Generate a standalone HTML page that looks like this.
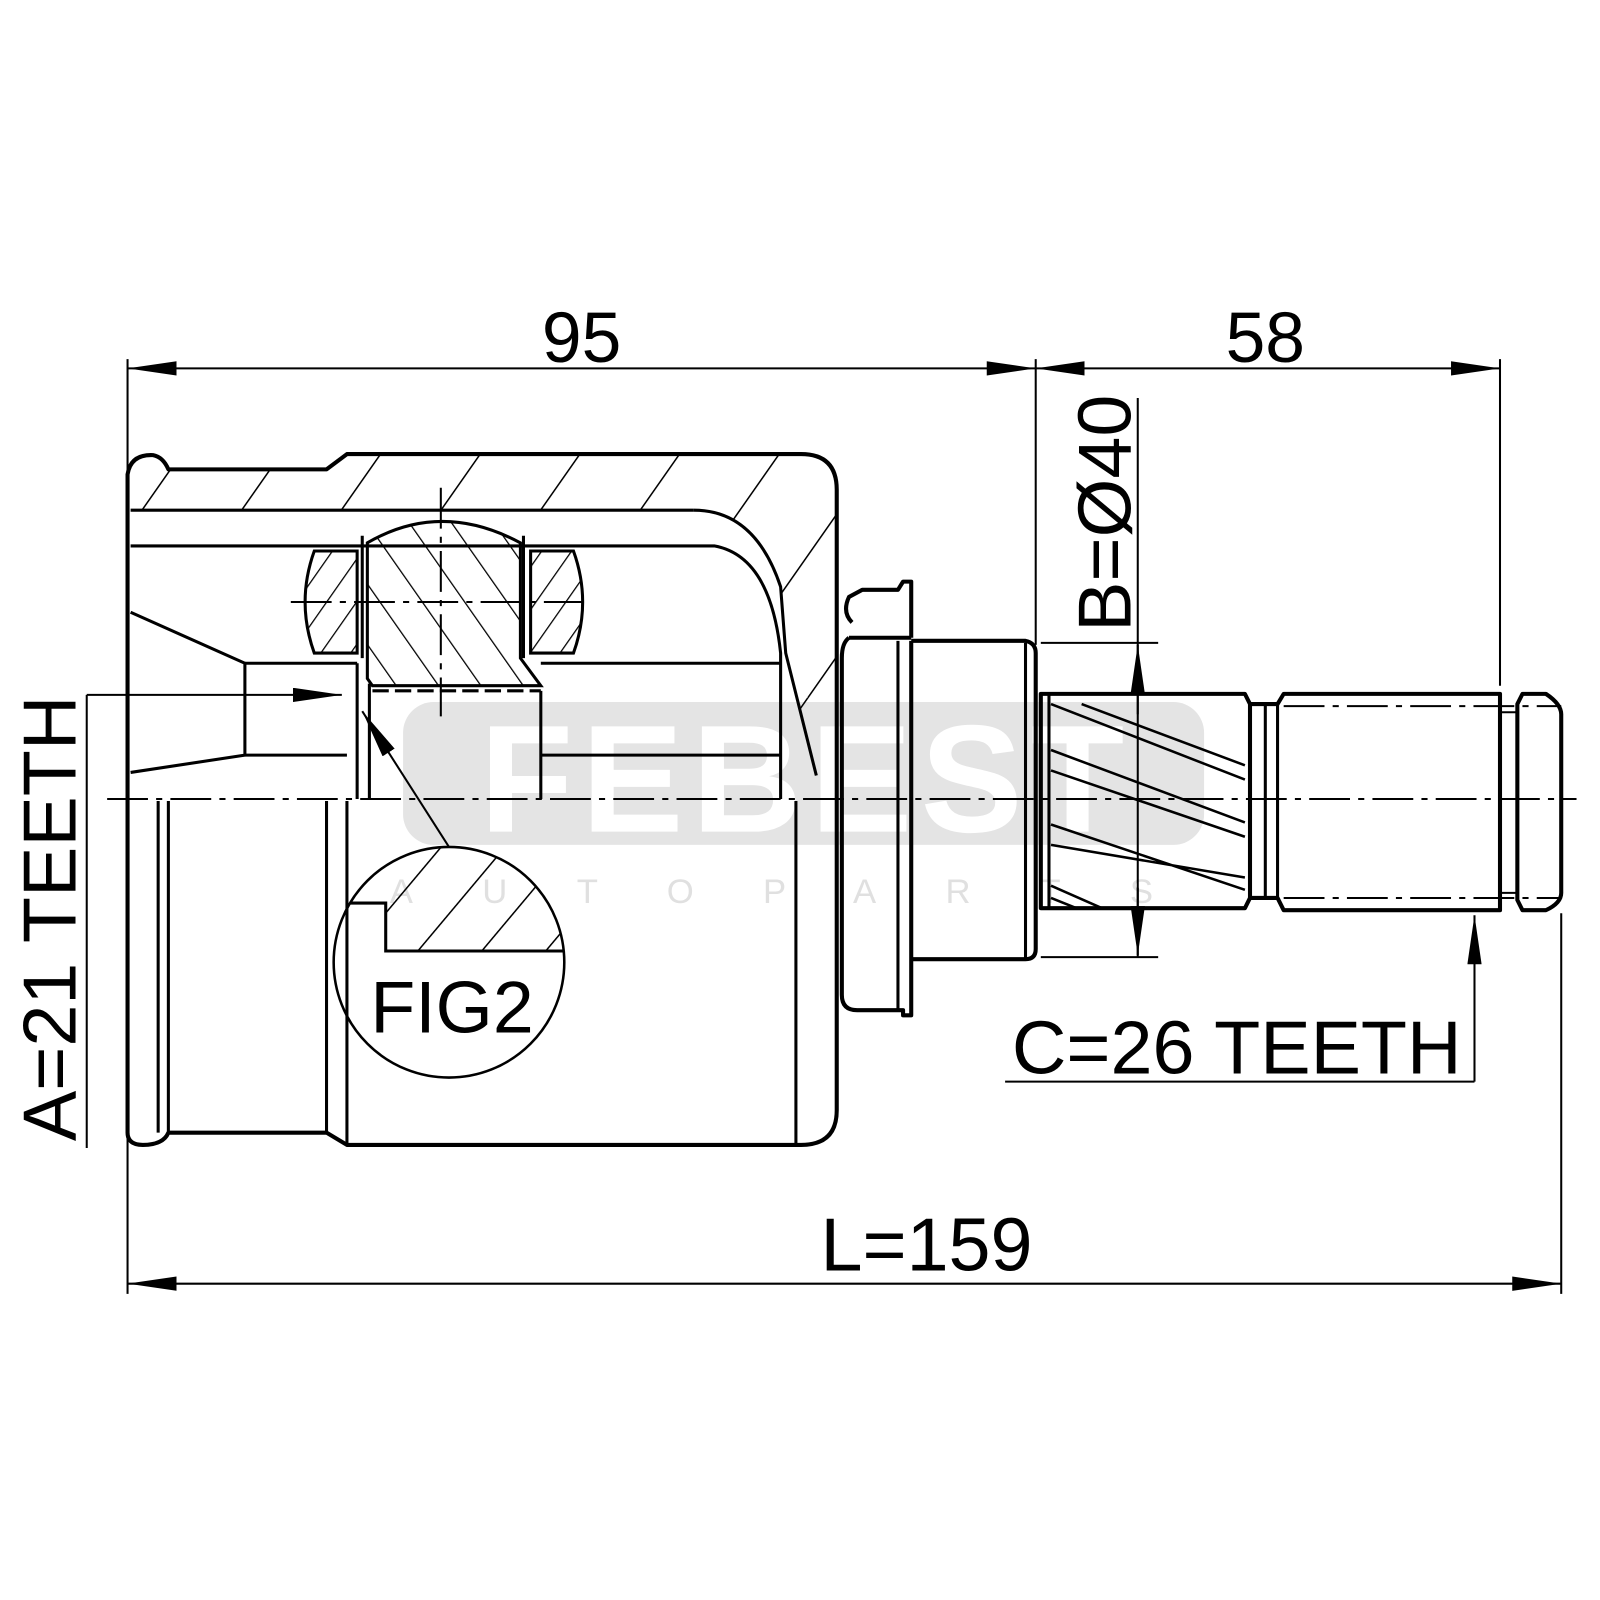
<!DOCTYPE html>
<html><head><meta charset="utf-8"><style>
html,body{margin:0;padding:0;background:#fff}
svg{display:block}
text{font-family:"Liberation Sans",Arial,sans-serif}
</style></head><body>
<svg width="1600" height="1600" viewBox="0 0 1568 1568" xmlns="http://www.w3.org/2000/svg">
<defs>
<marker id="ar" viewBox="0 0 48 14" refX="48" refY="7" markerWidth="48" markerHeight="14" markerUnits="userSpaceOnUse" orient="auto-start-reverse"><path d="M0,0 L48,7 L0,14 Z" fill="#000"/></marker>
<pattern id="h1" width="80" height="80" patternUnits="userSpaceOnUse" patternTransform="rotate(35)"><line x1="0" y1="0" x2="0" y2="80" stroke="#000" stroke-width="3"/></pattern>
<pattern id="h2" width="34" height="34" patternUnits="userSpaceOnUse" patternTransform="rotate(-35)"><line x1="0" y1="0" x2="0" y2="34" stroke="#000" stroke-width="2.5"/></pattern>
<pattern id="h3" width="24" height="24" patternUnits="userSpaceOnUse" patternTransform="rotate(35)"><line x1="0" y1="0" x2="0" y2="24" stroke="#000" stroke-width="2.5"/></pattern>
<pattern id="h4" width="48" height="48" patternUnits="userSpaceOnUse" patternTransform="rotate(40)"><line x1="0" y1="0" x2="0" y2="48" stroke="#000" stroke-width="3"/></pattern>
<clipPath id="fig"><circle cx="440" cy="943" r="113"/></clipPath>
</defs>
<g fill="#e4e4e4">
<rect x="395" y="688" width="785" height="140" rx="30"/>
</g>
<text x="790" y="815" text-anchor="middle" font-size="150" font-weight="bold" fill="#fff" letter-spacing="8">FEBEST</text>
<text x="790" y="885" text-anchor="middle" font-size="34" fill="#e0e0e0" letter-spacing="68">AUTOPARTS</text>

<g stroke="#000" fill="none" stroke-width="2">
<line x1="125" y1="352" x2="125" y2="1268"/>
<line x1="1015" y1="352" x2="1015" y2="632"/>
<line x1="1470" y1="352" x2="1470" y2="672"/>
<line x1="1530" y1="895" x2="1530" y2="1268"/>
<line x1="125" y1="361" x2="1015" y2="361" marker-start="url(#ar)" marker-end="url(#ar)"/>
<line x1="1015" y1="361" x2="1470" y2="361" marker-start="url(#ar)" marker-end="url(#ar)"/>
<line x1="125" y1="1258" x2="1530" y2="1258" marker-start="url(#ar)" marker-end="url(#ar)"/>
<line x1="1020" y1="630" x2="1135" y2="630"/>
<line x1="1020" y1="938" x2="1135" y2="938"/>
<line x1="1115" y1="390" x2="1115" y2="938"/>
<line x1="1115" y1="700" x2="1115" y2="632" marker-end="url(#ar)"/>
<line x1="1115" y1="870" x2="1115" y2="936" marker-end="url(#ar)"/>
<line x1="985" y1="1060" x2="1445" y2="1060"/>
<line x1="1445" y1="1060" x2="1445" y2="897" marker-end="url(#ar)"/>
<line x1="85" y1="681" x2="85" y2="1125"/>
<line x1="85" y1="681" x2="335" y2="681" marker-end="url(#ar)"/>
<line x1="440" y1="830" x2="355" y2="697" marker-end="url(#ar)"/>
</g>

<path d="M128,460 L150,446 L165,460 L320,460 L340,445 L785,445 Q820,445 820,480 L820,760 L800,760 L770,640 L765,575 Q740,500 680,500 L128,500 Z" fill="url(#h1)"/>
<path d="M770,640 L765,575 Q740,500 680,500 L128,500 L128,535 L700,535 Q755,545 765,640 Z" fill="#fff"/>
<g stroke="#000" fill="none" stroke-width="4" stroke-linejoin="round">
<path d="M125,1110 L125,465 Q128,445 150,446 Q160,448 165,460 L320,460 L340,445 L785,445 Q820,445 820,480 L820,1088 Q820,1122 785,1122 L340,1122 L320,1110 L165,1110 Q160,1122 140,1122 Q125,1122 125,1110"/>
<line x1="128" y1="500" x2="680" y2="500" stroke-width="3"/>
<path d="M680,500 Q740,500 765,575 L770,640 L800,760" stroke-width="3"/>
<path d="M128,535 L700,535 Q755,545 765,640 L765,783" stroke-width="3"/>
<line x1="155" y1="785" x2="155" y2="1110" stroke-width="3"/>
<line x1="165" y1="785" x2="165" y2="1110" stroke-width="3"/>
<line x1="320" y1="785" x2="320" y2="1110" stroke-width="3"/>
<line x1="340" y1="785" x2="340" y2="1122" stroke-width="3"/>
<line x1="780" y1="785" x2="780" y2="1122" stroke-width="3"/>
<path d="M128,600 L240,650 L240,740 L128,757" stroke-width="3"/>
<line x1="240" y1="650" x2="350" y2="650" stroke-width="3"/>
<line x1="240" y1="740" x2="340" y2="740" stroke-width="3"/>
<line x1="530" y1="650" x2="765" y2="650" stroke-width="3"/>
<line x1="530" y1="740" x2="765" y2="740" stroke-width="3"/>
<line x1="530" y1="677" x2="530" y2="783" stroke-width="3"/>
<line x1="350" y1="650" x2="350" y2="783" stroke-width="3"/>
<line x1="362" y1="670" x2="362" y2="783" stroke-width="3"/>
</g>
<path d="M360,532 Q432,490 510,532 L510,645 L530,672 L365,672 L360,665 Z" fill="url(#h2)" stroke="#000" stroke-width="3"/>
<line x1="365" y1="677" x2="530" y2="677" stroke="#000" stroke-width="3" stroke-dasharray="16 6"/>
<path d="M308,540 L350,540 L350,640 L308,640 Q290,590 308,540 Z" fill="url(#h3)" stroke="#000" stroke-width="3"/>
<path d="M520,540 L562,540 Q580,590 562,640 L520,640 Z" fill="url(#h3)" stroke="#000" stroke-width="3"/>
<line x1="355" y1="525" x2="355" y2="645" stroke="#000" stroke-width="3"/>
<line x1="513" y1="525" x2="513" y2="645" stroke="#000" stroke-width="3"/>
<g stroke="#000" stroke-width="2" stroke-dasharray="40 8 6 8">
<line x1="432" y1="478" x2="432" y2="702"/>
<line x1="285" y1="590" x2="570" y2="590"/>
</g>
<g stroke="#000" fill="none" stroke-width="4" stroke-linejoin="round">
<path d="M835,610 Q825,600 832,585 L845,578 L880,578 L885,570 L893,570 L893,625"/>
<path d="M832,625 L893,625"/>
<path d="M832,625 Q825,630 825,645 L825,975 Q825,990 840,990 L885,990 L885,995 L893,995 L893,628"/>
<line x1="880" y1="628" x2="880" y2="990" stroke-width="3"/>
<path d="M893,628 L1005,628 Q1015,630 1015,640 L1015,930 Q1015,940 1005,940 L893,940"/>
<line x1="1005" y1="630" x2="1005" y2="940" stroke-width="3"/>
<path d="M1020,680 L1220,680 L1225,690 L1225,880 L1220,890 L1020,890 Z"/>
<line x1="1028" y1="680" x2="1028" y2="890" stroke-width="3"/>
<path d="M1225,690 L1252,690 L1258,680 L1470,680 L1470,892 L1258,892 L1252,880 L1225,880"/>
<line x1="1240" y1="690" x2="1240" y2="880" stroke-width="3"/>
<line x1="1252" y1="690" x2="1252" y2="880" stroke-width="3"/>
<path d="M1487,690 L1492,680 L1515,680 Q1530,690 1530,700 L1530,875 Q1530,885 1515,892 L1492,892 L1487,882 Z"/>
<line x1="1470" y1="698" x2="1487" y2="698" stroke-width="2"/>
<line x1="1470" y1="875" x2="1487" y2="875" stroke-width="2"/>
</g>
<g stroke="#000" stroke-width="2" stroke-dasharray="40 8 6 8">
<line x1="1258" y1="692" x2="1530" y2="692"/>
<line x1="1258" y1="880" x2="1530" y2="880"/>
<line x1="105" y1="783" x2="1545" y2="783"/>
</g>
<g stroke="#000" stroke-width="2.5" fill="none">
<path d="M1030,690 L1220,764 M1060,690 L1220,750"/>
<path d="M1030,735 L1220,806 M1030,755 L1220,820"/>
<path d="M1030,808 L1220,872 M1030,828 L1220,860"/>
<path d="M1030,868 L1080,890 M1030,880 L1055,890"/>
</g>
<g clip-path="url(#fig)">
<path d="M320,830 L560,830 L560,932 L378,932 L378,885 L340,885 L340,830 Z" fill="url(#h4)"/>
<path d="M340,885 L378,885 L378,932 L560,932" stroke="#000" stroke-width="3" fill="none"/>
</g>
<circle cx="440" cy="943" r="113" fill="none" stroke="#000" stroke-width="2.5"/>
<text x="443" y="1012" text-anchor="middle" font-size="72">FIG2</text>
<text x="570" y="355" text-anchor="middle" font-size="70">95</text>
<text x="1240" y="355" text-anchor="middle" font-size="70">58</text>
<text x="908" y="1245" text-anchor="middle" font-size="74">L=159</text>
<text x="1212" y="1052" text-anchor="middle" font-size="74">C=26 TEETH</text>
<text transform="translate(74,900) rotate(-90)" text-anchor="middle" font-size="74">A=21 TEETH</text>
<text transform="translate(1108,503) rotate(-90)" text-anchor="middle" font-size="74">B=Ø40</text>
</svg>
</body></html>
